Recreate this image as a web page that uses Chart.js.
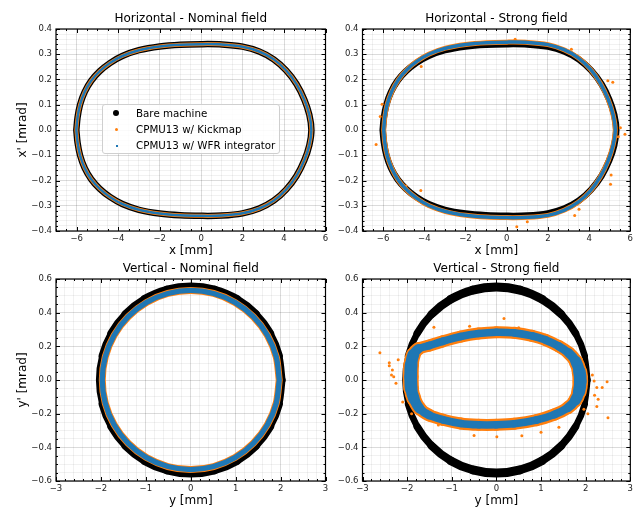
<!DOCTYPE html>
<html><head><meta charset="utf-8">
<script src="https://cdn.jsdelivr.net/npm/chart.js@4.4.1/dist/chart.umd.min.js"></script>
<style>
html,body{margin:0;padding:0;background:#fff;}
#wrap{position:relative;width:636px;height:509px;overflow:hidden;background:#fff;}
#wrap canvas{position:absolute;left:0;top:0;}
#legend{position:absolute;left:102px;top:104px;width:178px;height:50px;border:1px solid #cfcfcf;border-radius:3px;background:rgba(255,255,255,0.85);font-family:"DejaVu Sans",sans-serif;font-size:10.3px;color:#000;box-sizing:border-box;z-index:5;}
#legend .row{position:absolute;left:0;height:16px;line-height:16px;width:100%;white-space:nowrap;}
#legend .mk{position:absolute;display:block;}
#legend .tx{position:absolute;left:33px;top:0;}
</style></head>
<body>
<div id="wrap">
<canvas id="cTL" width="636" height="509"></canvas>
<canvas id="cTR" width="636" height="509"></canvas>
<canvas id="cBL" width="636" height="509"></canvas>
<canvas id="cBR" width="636" height="509"></canvas>
<div id="legend">
 <div class="row" style="top:0px"><span class="mk" style="left:10px;top:5px;width:6px;height:6px;border-radius:50%;background:#000"></span><span class="tx">Bare machine</span></div>
 <div class="row" style="top:16px"><span class="mk" style="left:12px;top:7px;width:3px;height:3px;border-radius:50%;background:#ff7f0e"></span><span class="tx">CPMU13 w/ Kickmap</span></div>
 <div class="row" style="top:32px"><span class="mk" style="left:12.5px;top:7.5px;width:2px;height:2px;background:#1f77b4"></span><span class="tx">CPMU13 w/ WFR integrator</span></div>
</div>
</div>
<script>
// ---------------- data ----------------
const panelTitles = ['Horizontal - Nominal field', 'Horizontal - Strong field', 'Vertical - Nominal field', 'Vertical - Strong field'];
const seriesNames = ['Bare machine', 'CPMU13 w/ Kickmap', 'CPMU13 w/ WFR integrator'];

// horizontal phase space (x [mm], x' [mrad])
const hBare = [[-6.02,0.0],[-5.96,0.05],[-5.84,0.1],[-5.62,0.15],[-5.3,0.195],[-4.9,0.232],[-4.4,0.265],[-3.8,0.293],[-3.0,0.316],[-2.0,0.331],[-1.0,0.338],[0.0,0.340],[1.0,0.339],[2.0,0.33],[2.8,0.311],[3.5,0.28],[4.1,0.236],[4.6,0.182],[4.98,0.12],[5.22,0.06],[5.32,0.0],[5.22,-0.06],[4.98,-0.12],[4.6,-0.182],[4.1,-0.236],[3.5,-0.28],[2.8,-0.311],[2.0,-0.33],[1.0,-0.339],[0.0,-0.340],[-1.0,-0.338],[-2.0,-0.331],[-3.0,-0.316],[-3.8,-0.293],[-4.4,-0.265],[-4.9,-0.232],[-5.3,-0.195],[-5.62,-0.15],[-5.84,-0.1],[-5.96,-0.05],[-6.02,0.0]];
const hNominalKick = hBare;
const hNominalWfr = hBare;
const hStrong = [[-5.97,0.0],[-5.92,0.05],[-5.8,0.102],[-5.57,0.154],[-5.25,0.2],[-4.86,0.238],[-4.36,0.272],[-3.76,0.301],[-2.97,0.324],[-1.98,0.339],[-0.98,0.346],[0.02,0.348],[1.02,0.347],[2.0,0.338],[2.78,0.318],[3.47,0.286],[4.06,0.241],[4.54,0.186],[4.92,0.123],[5.16,0.062],[5.27,0.0],[5.16,-0.062],[4.92,-0.123],[4.54,-0.186],[4.06,-0.241],[3.47,-0.286],[2.78,-0.318],[2.0,-0.338],[1.02,-0.346],[0.02,-0.347],[-0.98,-0.345],[-1.98,-0.338],[-2.97,-0.323],[-3.76,-0.3],[-4.36,-0.271],[-4.86,-0.237],[-5.25,-0.2],[-5.57,-0.154],[-5.8,-0.102],[-5.92,-0.05],[-5.97,0.0]];
const hStrongKick = hStrong;
const hStrongWfr = hStrong;
const hStrongKickOutliers = [[-6.34,-0.057],[-6.14,0.053],[-6.05,0.102],[-5.82,-0.099],[-4.89,-0.222],[-4.17,-0.24],[-4.15,0.251],[-2.29,-0.333],[-1.68,-0.339],[0.49,-0.383],[1.0,-0.363],[3.14,0.32],[3.3,-0.339],[3.51,-0.314],[4.91,0.195],[5.15,0.189],[5.52,0.009],[5.74,-0.017],[5.07,-0.178],[5.04,-0.215],[5.42,-0.027],[0.41,0.359]];

// vertical phase space (y [mm], y' [mrad])
const vBare = [[2.05,0],[1.98,0.143],[1.775,0.277],[1.45,0.391],[1.025,0.479],[0.53,0.534],[0,0.553],[-0.53,0.534],[-1.025,0.479],[-1.45,0.391],[-1.775,0.277],[-1.98,0.143],[-2.05,0],[-1.98,-0.143],[-1.775,-0.277],[-1.45,-0.391],[-1.025,-0.479],[-0.53,-0.534],[0,-0.553],[0.53,-0.534],[1.025,-0.479],[1.45,-0.391],[1.775,-0.277],[1.98,-0.143],[2.05,0]];
const vNominal = [[1.97,0],[1.903,0.138],[1.706,0.266],[1.393,0.376],[0.985,0.461],[0.51,0.514],[0,0.532],[-0.51,0.514],[-0.985,0.461],[-1.393,0.376],[-1.706,0.266],[-1.903,0.138],[-1.97,0],[-1.903,-0.138],[-1.706,-0.266],[-1.393,-0.376],[-0.985,-0.461],[-0.51,-0.514],[0,-0.532],[0.51,-0.514],[0.985,-0.461],[1.393,-0.376],[1.706,-0.266],[1.903,-0.138],[1.97,0]];
const vNominalKick = vNominal;
const vNominalWfr = vNominal;
const vStrong = [[-1.92,0.02],[-1.91,0.09],[-1.86,0.15],[-1.75,0.185],[-1.5,0.205],[-1.2,0.23],[-0.8,0.258],[-0.4,0.276],[0.0,0.284],[0.4,0.28],[0.8,0.262],[1.1,0.238],[1.4,0.2],[1.62,0.16],[1.78,0.11],[1.86,0.05],[1.88,-0.01],[1.85,-0.07],[1.77,-0.12],[1.6,-0.165],[1.3,-0.205],[0.9,-0.238],[0.4,-0.26],[0.0,-0.266],[-0.4,-0.266],[-0.8,-0.258],[-1.2,-0.236],[-1.5,-0.21],[-1.72,-0.17],[-1.85,-0.11],[-1.91,-0.05],[-1.92,0.02]];
const vStrongKick = vStrong;
const vStrongWfr = vStrong;
const vStrongKickOutliers = [[-2.61,0.162],[-2.40,0.103],[-2.40,0.085],[-2.35,0.03],[-2.30,0.02],[-2.33,0.06],[-2.2,0.12],[-2.25,-0.02],[-1.40,0.313],[0.17,0.366],[-0.6,0.32],[0.5,0.31],[2.48,-0.01],[2.37,-0.045],[2.25,-0.044],[2.28,-0.115],[2.25,-0.158],[2.50,-0.224],[2.19,-0.006],[2.15,0.03],[2.2,-0.09],[-1.30,-0.267],[0.57,-0.331],[0.01,-0.337],[-0.5,-0.33],[1.0,-0.31],[1.96,-0.174],[2.05,-0.2],[-2.1,-0.13],[-1.9,-0.2],[1.4,-0.28]];

// axis limits / tick steps
const hxRange = [-7, 6], hxMinor = 0.5, hxMajor = 2;
const hyRange = [-0.4, 0.4], hyMinor = 0.02, hyMajor = 0.1;
const vxRange = [-3, 3], vxMinor = 0.2, vxMajor = 1;
const vyRange = [-0.6, 0.6], vyMinor = 0.05, vyMajor = 0.2;

// ---------------- rendering ----------------
const W = 636, H = 509;
const BLACK = '#000000', ORANGE = '#ff7f0e', BLUE = '#1f77b4';
Chart.defaults.font.family = "'DejaVu Sans', sans-serif";
Chart.defaults.color = '#222';

function ticksFrom(min, max, step) {
  const out = []; const n = Math.round((max - min) / step);
  for (let i = 0; i <= n; i++) out.push({ value: +(min + i * step).toFixed(6) });
  return out;
}
function isMajor(v, major) { const r = v / major; return Math.abs(r - Math.round(r)) < 1e-6; }
function fmt(v, dec) { const s = Math.abs(v) < 1e-9 ? (0).toFixed(dec) : v.toFixed(dec); return s.replace('-', '\u2212'); }

function mkAxis(o) {
  const bottom = o.pos === 'bottom';
  return {
    type: 'linear', position: o.pos, min: o.range[0], max: o.range[1],
    afterBuildTicks: s => { s.ticks = ticksFrom(o.range[0], o.range[1], o.minor); },
    afterFit: s => { if (bottom) s.height = 26; else s.width = 50; },
    ticks: { autoSkip: false, maxRotation: 0, minRotation: 0, padding: bottom ? 3 : 4,
      font: { size: 8.5 }, color: '#222',
      callback: v => isMajor(v, o.major) ? fmt(v, o.dec) : '' },
    grid: { drawTicks: false, lineWidth: 1,
      color: c => (c.tick && c.tick.label) ? 'rgba(0,0,0,0.14)' : 'rgba(0,0,0,0.055)' },
    border: { display: false },
    title: { display: !!o.title, text: o.title || '', color: '#000', font: { size: 12, lineHeight: 1 },
      padding: bottom ? { top: 0, bottom: 0 } : { top: 10.5, bottom: 0 } }
  };
}

const framePlugin = {
  id: 'frame',
  afterDatasetsDraw(chart) {
    const { ctx, chartArea: a } = chart; const xs = chart.scales.x, ys = chart.scales.y;
    ctx.save(); ctx.strokeStyle = '#000'; ctx.lineWidth = 1;
    ctx.beginPath();
    xs.ticks.forEach(t => {
      const p = Math.round(xs.getPixelForValue(t.value)) + 0.5; const L = t.label ? 4 : 2;
      ctx.moveTo(p, a.bottom); ctx.lineTo(p, a.bottom - L);
      ctx.moveTo(p, a.top); ctx.lineTo(p, a.top + L);
    });
    ys.ticks.forEach(t => {
      const p = Math.round(ys.getPixelForValue(t.value)) + 0.5; const L = t.label ? 4 : 2;
      ctx.moveTo(a.left, p); ctx.lineTo(a.left + L, p);
      ctx.moveTo(a.right, p); ctx.lineTo(a.right - L, p);
    });
    ctx.stroke();
    ctx.lineWidth = 1.2;
    ctx.strokeRect(a.left, a.top, a.right - a.left, a.bottom - a.top);
    ctx.restore();
  }
};

function ring(label, data, color, wH, wV, order) {
  const ds = { label, data, showLine: true, borderColor: color, backgroundColor: color, borderWidth: wH,
    pointRadius: 0, pointHoverRadius: 0, tension: 0.3, fill: false, order,
    borderCapStyle: 'round', borderJoinStyle: 'round' };
  if (wV !== null && wV !== wH) {
    ds.segment = { borderWidth: c => {
      const dx = c.p1.x - c.p0.x, dy = c.p1.y - c.p0.y; const len = Math.hypot(dx, dy);
      const k = len > 0 ? Math.abs(dx) / len : 0;
      return wV + (wH - wV) * k;
    } };
  }
  return ds;
}
function dots(label, data, color, r, order) {
  return { label, data, showLine: false, pointRadius: r, pointHoverRadius: r, pointBorderWidth: 0,
    backgroundColor: color, borderColor: color, order };
}

function makePanel(id, area, title, xAx, yAx, datasets) {
  const pad = { left: area.l - 50, top: area.t - 18, right: W - area.r, bottom: H - area.b - 26 };
  new Chart(document.getElementById(id), {
    type: 'scatter',
    data: { datasets },
    options: {
      responsive: false, animation: false, devicePixelRatio: 1, events: [],
      layout: { padding: pad },
      plugins: {
        legend: { display: false }, tooltip: { enabled: false },
        title: { display: true, text: title, fullSize: false, color: '#000',
          font: { size: 12, weight: 'normal', lineHeight: 1 }, padding: { top: 2, bottom: 4 } }
      },
      scales: { x: mkAxis(xAx), y: mkAxis(yAx) }
    },
    plugins: [framePlugin]
  });
}

const hx = t => ({ pos: 'bottom', range: hxRange, minor: hxMinor, major: hxMajor, dec: 0, title: t });
const hy = t => ({ pos: 'left', range: hyRange, minor: hyMinor, major: hyMajor, dec: 1, title: t });
const vx = t => ({ pos: 'bottom', range: vxRange, minor: vxMinor, major: vxMajor, dec: 0, title: t });
const vy = t => ({ pos: 'left', range: vyRange, minor: vyMinor, major: vyMajor, dec: 1, title: t });

const TOP = { t: 29, b: 231 }, BOT = { t: 279, b: 481 };
const LEFT = { l: 56, r: 325.5 }, RIGHT = { l: 362.5, r: 631.5 };

makePanel('cTL', { ...LEFT, ...TOP }, panelTitles[0], hx('x [mm]'), hy("x' [mrad]"), [
  ring(seriesNames[0], hBare, BLACK, 6.5, null, 3),
  ring(seriesNames[1], hNominalKick, ORANGE, 4, null, 2),
  ring(seriesNames[2], hNominalWfr, BLUE, 2.5, null, 1)
]);
makePanel('cTR', { ...RIGHT, ...TOP }, panelTitles[1], hx('x [mm]'), hy(''), [
  ring(seriesNames[0], hBare, BLACK, 6.5, null, 4),
  ring(seriesNames[1], hStrongKick, ORANGE, 5, null, 3),
  dots(seriesNames[1], hStrongKickOutliers, ORANGE, 1.5, 2),
  ring(seriesNames[2], hStrongWfr, BLUE, 3.5, null, 1)
]);
makePanel('cBL', { ...LEFT, ...BOT }, panelTitles[2], vx('y [mm]'), vy("y' [mrad]"), [
  ring(seriesNames[0], vBare, BLACK, 9, 5, 3),
  ring(seriesNames[1], vNominalKick, ORANGE, 7, 7, 2),
  ring(seriesNames[2], vNominalWfr, BLUE, 5.3, 5.3, 1)
]);
makePanel('cBR', { ...RIGHT, ...BOT }, panelTitles[3], vx('y [mm]'), vy(''), [
  ring(seriesNames[0], vBare, BLACK, 9, 5, 4),
  ring(seriesNames[1], vStrongKick, ORANGE, 12, 16, 3),
  dots(seriesNames[1], vStrongKickOutliers, ORANGE, 1.5, 2),
  ring(seriesNames[2], vStrongWfr, BLUE, 7.5, 13, 1)
]);
</script>
</body></html>
